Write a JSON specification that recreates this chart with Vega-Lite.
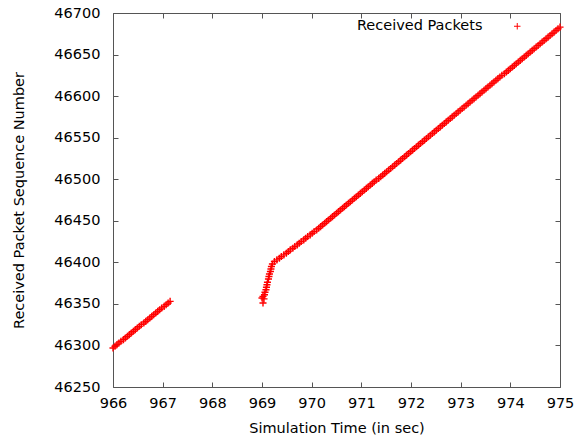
{
  "$schema": "https://vega.github.io/schema/vega-lite/v6.json",
  "width": 447,
  "height": 374,
  "autosize": {"type": "none"},
  "padding": {"left": 113, "top": 13, "right": 14, "bottom": 52},
  "background": "white",
  "config": {
    "view": {"stroke": null},
    "font": "DejaVu Sans",
    "axis": {
      "labelFont": "DejaVu Sans",
      "titleFont": "DejaVu Sans",
      "labelFontSize": 14.5,
      "titleFontSize": 14.5,
      "titleFontWeight": "normal",
      "labelColor": "#000000",
      "titleColor": "#000000",
      "domainColor": "#555555",
      "tickColor": "#555555",
      "domainWidth": 1,
      "tickWidth": 1,
      "tickSize": -5,
      "labelFlush": false,
      "labelOverlap": false,
      "grid": false
    }
  },
  "data": {
    "values": [
      {"t": 966.00, "s": 46297}, {"t": 966.04, "s": 46299}, {"t": 966.08, "s": 46301}, {"t": 966.12, "s": 46303},
      {"t": 966.16, "s": 46305}, {"t": 966.21, "s": 46307}, {"t": 966.25, "s": 46309}, {"t": 966.29, "s": 46311},
      {"t": 966.33, "s": 46313}, {"t": 966.37, "s": 46315}, {"t": 966.41, "s": 46317}, {"t": 966.45, "s": 46319},
      {"t": 966.49, "s": 46321}, {"t": 966.53, "s": 46323}, {"t": 966.57, "s": 46325}, {"t": 966.62, "s": 46327},
      {"t": 966.66, "s": 46329}, {"t": 966.70, "s": 46331}, {"t": 966.74, "s": 46333}, {"t": 966.78, "s": 46335},
      {"t": 966.82, "s": 46337}, {"t": 966.86, "s": 46339}, {"t": 966.90, "s": 46341}, {"t": 966.94, "s": 46343},
      {"t": 966.98, "s": 46345}, {"t": 967.03, "s": 46347}, {"t": 967.07, "s": 46349}, {"t": 967.11, "s": 46351},
      {"t": 967.15, "s": 46353},
      {"t": 969.00, "s": 46357}, {"t": 969.02, "s": 46351}, {"t": 969.02, "s": 46359}, {"t": 969.04, "s": 46356},
      {"t": 969.05, "s": 46361}, {"t": 969.06, "s": 46364}, {"t": 969.08, "s": 46367}, {"t": 969.09, "s": 46370},
      {"t": 969.10, "s": 46373}, {"t": 969.11, "s": 46376}, {"t": 969.13, "s": 46380}, {"t": 969.14, "s": 46383},
      {"t": 969.15, "s": 46386}, {"t": 969.17, "s": 46389}, {"t": 969.18, "s": 46392}, {"t": 969.19, "s": 46395},
      {"t": 969.21, "s": 46398},
      {"t": 969.25, "s": 46401}, {"t": 969.30, "s": 46403}, {"t": 969.35, "s": 46405}, {"t": 969.39, "s": 46407},
      {"t": 969.44, "s": 46409}, {"t": 969.49, "s": 46411}, {"t": 969.53, "s": 46413}, {"t": 969.57, "s": 46415},
      {"t": 969.62, "s": 46417}, {"t": 969.66, "s": 46419}, {"t": 969.71, "s": 46421}, {"t": 969.75, "s": 46423},
      {"t": 969.79, "s": 46425}, {"t": 969.84, "s": 46427}, {"t": 969.88, "s": 46429}, {"t": 969.92, "s": 46431},
      {"t": 969.97, "s": 46433}, {"t": 970.01, "s": 46435}, {"t": 970.05, "s": 46437}, {"t": 970.10, "s": 46439},
      {"t": 970.14, "s": 46441}, {"t": 970.18, "s": 46443}, {"t": 970.22, "s": 46445}, {"t": 970.26, "s": 46447},
      {"t": 970.30, "s": 46449}, {"t": 970.34, "s": 46451}, {"t": 970.38, "s": 46453}, {"t": 970.42, "s": 46455},
      {"t": 970.46, "s": 46457}, {"t": 970.50, "s": 46459}, {"t": 970.54, "s": 46461}, {"t": 970.58, "s": 46463},
      {"t": 970.62, "s": 46465}, {"t": 970.66, "s": 46467}, {"t": 970.70, "s": 46469}, {"t": 970.74, "s": 46471},
      {"t": 970.78, "s": 46473}, {"t": 970.82, "s": 46475}, {"t": 970.86, "s": 46477}, {"t": 970.90, "s": 46479},
      {"t": 970.94, "s": 46481}, {"t": 970.98, "s": 46483}, {"t": 971.02, "s": 46485}, {"t": 971.06, "s": 46487},
      {"t": 971.10, "s": 46489}, {"t": 971.14, "s": 46491}, {"t": 971.18, "s": 46493}, {"t": 971.22, "s": 46495},
      {"t": 971.26, "s": 46497}, {"t": 971.30, "s": 46499}, {"t": 971.35, "s": 46501}, {"t": 971.39, "s": 46503},
      {"t": 971.43, "s": 46505}, {"t": 971.47, "s": 46507}, {"t": 971.51, "s": 46509}, {"t": 971.55, "s": 46511},
      {"t": 971.59, "s": 46513}, {"t": 971.63, "s": 46515}, {"t": 971.67, "s": 46517}, {"t": 971.71, "s": 46519},
      {"t": 971.75, "s": 46521}, {"t": 971.79, "s": 46523}, {"t": 971.83, "s": 46525}, {"t": 971.87, "s": 46527},
      {"t": 971.91, "s": 46529}, {"t": 971.95, "s": 46531}, {"t": 971.99, "s": 46533}, {"t": 972.03, "s": 46535},
      {"t": 972.07, "s": 46537}, {"t": 972.11, "s": 46539}, {"t": 972.15, "s": 46541}, {"t": 972.19, "s": 46543},
      {"t": 972.23, "s": 46545}, {"t": 972.27, "s": 46547}, {"t": 972.31, "s": 46549}, {"t": 972.35, "s": 46551},
      {"t": 972.39, "s": 46553}, {"t": 972.43, "s": 46555}, {"t": 972.47, "s": 46557}, {"t": 972.51, "s": 46559},
      {"t": 972.55, "s": 46561}, {"t": 972.59, "s": 46563}, {"t": 972.63, "s": 46565}, {"t": 972.67, "s": 46567},
      {"t": 972.71, "s": 46569}, {"t": 972.75, "s": 46571}, {"t": 972.79, "s": 46573}, {"t": 972.83, "s": 46575},
      {"t": 972.87, "s": 46577}, {"t": 972.91, "s": 46579}, {"t": 972.95, "s": 46581}, {"t": 972.99, "s": 46583},
      {"t": 973.03, "s": 46585}, {"t": 973.07, "s": 46587}, {"t": 973.11, "s": 46589}, {"t": 973.15, "s": 46591},
      {"t": 973.19, "s": 46593}, {"t": 973.23, "s": 46595}, {"t": 973.27, "s": 46597}, {"t": 973.31, "s": 46599},
      {"t": 973.35, "s": 46601}, {"t": 973.39, "s": 46603}, {"t": 973.43, "s": 46605}, {"t": 973.47, "s": 46607},
      {"t": 973.51, "s": 46609}, {"t": 973.55, "s": 46611}, {"t": 973.59, "s": 46613}, {"t": 973.63, "s": 46615},
      {"t": 973.67, "s": 46617}, {"t": 973.71, "s": 46619}, {"t": 973.75, "s": 46621}, {"t": 973.79, "s": 46623},
      {"t": 973.83, "s": 46625}, {"t": 973.88, "s": 46627}, {"t": 973.92, "s": 46629}, {"t": 973.96, "s": 46631},
      {"t": 974.00, "s": 46633}, {"t": 974.04, "s": 46635}, {"t": 974.08, "s": 46637}, {"t": 974.12, "s": 46639},
      {"t": 974.16, "s": 46641}, {"t": 974.20, "s": 46643}, {"t": 974.24, "s": 46645}, {"t": 974.28, "s": 46647},
      {"t": 974.32, "s": 46649}, {"t": 974.36, "s": 46651}, {"t": 974.40, "s": 46653}, {"t": 974.44, "s": 46655},
      {"t": 974.48, "s": 46657}, {"t": 974.52, "s": 46659}, {"t": 974.56, "s": 46661}, {"t": 974.60, "s": 46663},
      {"t": 974.64, "s": 46665}, {"t": 974.68, "s": 46667}, {"t": 974.72, "s": 46669}, {"t": 974.76, "s": 46671},
      {"t": 974.80, "s": 46673}, {"t": 974.84, "s": 46675}, {"t": 974.88, "s": 46677}, {"t": 974.92, "s": 46679},
      {"t": 974.96, "s": 46681}, {"t": 975.00, "s": 46683}
    ]
  },
  "resolve": {"axis": {"x": "independent", "y": "independent"}},
  "layer": [
    {
      "mark": {
        "type": "point",
        "shape": "M-1,0L1,0M0,-1L0,1",
        "filled": false,
        "size": 50,
        "strokeWidth": 1.4,
        "opacity": 1,
        "clip": false
      },
      "encoding": {
        "x": {
          "field": "t",
          "type": "quantitative",
          "scale": {"domain": [966, 975], "nice": false, "zero": false},
          "axis": {
            "title": "Simulation Time (in sec)",
            "values": [966, 967, 968, 969, 970, 971, 972, 973, 974, 975],
            "format": "d",
            "labelPadding": 14,
            "titlePadding": 12
          }
        },
        "y": {
          "field": "s",
          "type": "quantitative",
          "scale": {"domain": [46250, 46700], "nice": false, "zero": false},
          "axis": {
            "title": "Received Packet Sequence Number",
            "values": [46250, 46300, 46350, 46400, 46450, 46500, 46550, 46600, 46650, 46700],
            "format": "d",
            "labelPadding": 18,
            "titlePadding": 27
          }
        },
        "color": {
          "datum": "Received Packets",
          "type": "nominal",
          "scale": {"range": ["#ff0000"]},
          "legend": {
            "title": null,
            "orient": "none",
            "legendX": 397,
            "legendY": 6,
            "symbolType": "M-1,0L1,0M0,-1L0,1",
            "symbolSize": 42,
            "symbolStrokeWidth": 1,
            "symbolStrokeColor": "#ff0000",
            "symbolFillColor": "transparent",
            "labelFont": "DejaVu Sans",
            "labelFontSize": 14.5,
            "labelColor": "#000000",
            "labelAlign": "right",
            "labelOffset": -42
          }
        }
      }
    },
    {
      "mark": {"type": "point", "opacity": 0},
      "encoding": {
        "x": {
          "field": "t",
          "type": "quantitative",
          "axis": {
            "orient": "top",
            "labels": false,
            "title": null,
            "values": [966, 967, 968, 969, 970, 971, 972, 973, 974, 975]
          }
        },
        "y": {
          "field": "s",
          "type": "quantitative",
          "axis": {
            "orient": "right",
            "labels": false,
            "title": null,
            "values": [46250, 46300, 46350, 46400, 46450, 46500, 46550, 46600, 46650, 46700]
          }
        }
      }
    }
  ]
}
